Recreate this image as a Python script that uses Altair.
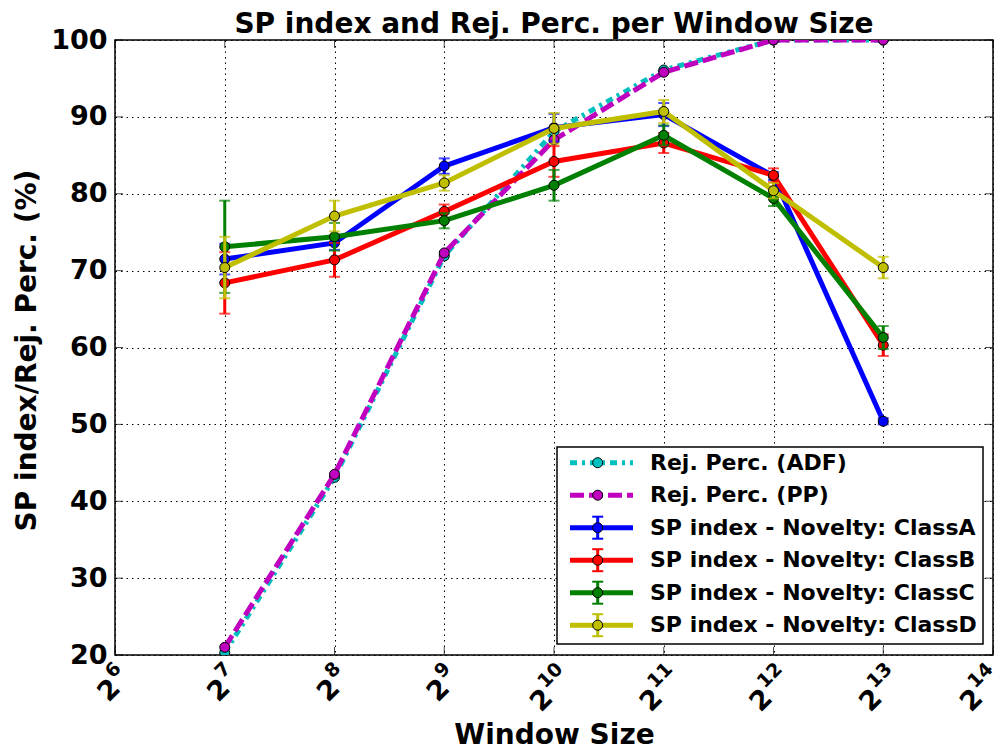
import altair as alt
import pandas as pd

# ---------------- data ----------------
sizes = [128, 256, 512, 1024, 2048, 4096, 8192]

rej_adf = [20.3, 43.1, 71.9, 88.1, 96.1, 100.0, 100.0]
rej_pp = [21.0, 43.5, 72.3, 87.0, 95.8, 100.0, 100.0]

sp_a = [71.5, 73.6, 83.6, 88.6, 90.3, 82.3, 50.4]
err_a = [2.0, 0.9, 1.0, 1.8, 1.5, 0.5, 0.4]
sp_b = [68.4, 71.4, 77.7, 84.2, 86.6, 82.4, 60.3]
err_b = [4.0, 2.2, 0.9, 2.0, 1.3, 0.9, 1.4]
sp_c = [73.1, 74.4, 76.5, 81.1, 87.6, 79.4, 61.3]
err_c = [6.0, 1.8, 1.0, 2.0, 1.3, 1.0, 1.5]
sp_d = [70.4, 77.1, 81.4, 88.5, 90.7, 80.4, 70.4]
err_d = [4.0, 2.0, 1.0, 2.0, 1.5, 1.0, 1.4]

x_ticks = [64, 128, 256, 512, 1024, 2048, 4096, 8192, 16384]
x_tick_base = ["2"] * 9
x_tick_exp = ["6", "7", "8", "9", "10", "11", "12", "13", "14"]
y_ticks = [20, 30, 40, 50, 60, 70, 80, 90, 100]

legend_labels = [
    "Rej. Perc. (ADF)",
    "Rej. Perc. (PP)",
    "SP index - Novelty: ClassA",
    "SP index - Novelty: ClassB",
    "SP index - Novelty: ClassC",
    "SP index - Novelty: ClassD",
]
colors = ["#00bfbf", "#bf00bf", "#0000ff", "#ff0000", "#008000", "#bfbf00"]
dashes = [[7, 5, 3, 5], [14, 5], None, None, None, None]

# ---------------- layout ----------------
W, H = 878, 615
FONT = "DejaVu Sans"

x_axis = alt.Axis(
    values=x_ticks,
    labels=False,
    title="Window Size",
    titleX=439,
    titleY=88,
    titleBaseline="alphabetic",
    titleAlign="center",
)
y_axis = alt.Axis(
    values=y_ticks,
    labelPadding=8,
    labelOverlap=False,
    labelFlush=False,
    title="SP index/Rej. Perc. (%)",
    titleX=-80,
    titleY=310,
    titleAlign="center",
    titleBaseline="alphabetic",
)
x_scale = alt.Scale(type="log", base=2, domain=[64, 16384], nice=False)
y_scale = alt.Scale(domain=[20, 100], nice=False, zero=False)


def X(field="size"):
    return alt.X(f"{field}:Q", scale=x_scale, axis=x_axis, title="Window Size")


def Y(field="value"):
    return alt.Y(f"{field}:Q", scale=y_scale, axis=y_axis, title="SP index/Rej. Perc. (%)")


layers = []

# inner ticks on all four sides
xt = pd.DataFrame({"size": x_ticks})
yt = pd.DataFrame({"value": y_ticks})
layers.append(alt.Chart(xt).mark_tick(orient="vertical", color="black", size=8, thickness=1).encode(x=X(), y=alt.value(H - 4)))
layers.append(alt.Chart(xt).mark_tick(orient="vertical", color="black", size=8, thickness=1).encode(x=X(), y=alt.value(4)))
layers.append(alt.Chart(yt).mark_tick(orient="horizontal", color="black", size=8, thickness=1).encode(y=Y(), x=alt.value(4)))
layers.append(alt.Chart(yt).mark_tick(orient="horizontal", color="black", size=8, thickness=1).encode(y=Y(), x=alt.value(W - 4)))

# x tick labels: base "2" plus raised exponent, rotated 45 degrees
lab = pd.DataFrame({"size": x_ticks, "base": x_tick_base, "exp": x_tick_exp})
lab["nd"] = lab["exp"].str.len()
lab["last"] = [False] * (len(x_ticks) - 1) + [True]
groups = [
    (lab[lab["nd"] == 1], -38.5, 29.4),
    (lab[(lab["nd"] == 2) & (~lab["last"])], -50.2, 31.8),
    # last label nudged slightly so it stays inside the page edge
    (lab[lab["last"]], -56.5, 25.5),
]
for sub, bdx, bdy in groups:
    layers.append(
        alt.Chart(sub).mark_text(
            angle=315, align="left", baseline="alphabetic", font=FONT, fontSize=27,
            fontWeight="bold", color="black", dx=bdx, dy=bdy
        ).encode(x=X(), y=alt.value(H), text="base:N")
    )
    layers.append(
        alt.Chart(sub).mark_text(
            angle=315, align="left", baseline="alphabetic", font=FONT, fontSize=19,
            fontWeight="bold", color="black", dx=bdx + 20, dy=bdy - 14
        ).encode(x=X(), y=alt.value(H), text="exp:N")
    )

series = [
    (rej_adf, None),
    (rej_pp, None),
    (sp_a, err_a),
    (sp_b, err_b),
    (sp_c, err_c),
    (sp_d, err_d),
]

MSIZE = 100
LW = 5

for i, (vals, errs) in enumerate(series):
    col = colors[i]
    df = pd.DataFrame({"size": sizes, "value": vals})
    if errs is not None:
        df["lo"] = [v - e for v, e in zip(vals, errs)]
        df["hi"] = [v + e for v, e in zip(vals, errs)]
        layers.append(
            alt.Chart(df).mark_rule(color=col, strokeWidth=3, clip=True).encode(x=X(), y=Y("lo"), y2="hi:Q")
        )
        caps = pd.DataFrame({"size": sizes + sizes, "value": list(df["lo"]) + list(df["hi"])})
        layers.append(
            alt.Chart(caps).mark_tick(orient="horizontal", color=col, size=11, thickness=2, clip=True).encode(x=X(), y=Y())
        )
    line_kw = dict(color=col, strokeWidth=LW, clip=True)
    if dashes[i] is not None:
        line_kw["strokeDash"] = dashes[i]
    layers.append(alt.Chart(df).mark_line(**line_kw).encode(x=X(), y=Y()))
    layers.append(
        alt.Chart(df).mark_point(
            shape="circle", filled=True, size=MSIZE, fill=col, stroke="black",
            strokeWidth=1, opacity=1, clip=True
        ).encode(x=X(), y=Y())
    )

# ---------------- legend ----------------
one = pd.DataFrame({"k": [0]})
LX0, LX1, LY0, LY1 = 442, 868, 407, 604
layers.append(
    alt.Chart(one).mark_rect(fill="white", stroke="black", strokeWidth=1.5).encode(
        x=alt.value(LX0), x2=alt.value(LX1), y=alt.value(LY0), y2=alt.value(LY1)
    )
)
for i, lbl in enumerate(legend_labels):
    yy = 422.7 + 32.5 * i
    col = colors[i]
    kw = dict(color=col, strokeWidth=LW)
    if dashes[i] is not None:
        kw["strokeDash"] = dashes[i]
    layers.append(alt.Chart(one).mark_rule(**kw).encode(x=alt.value(455), x2=alt.value(518), y=alt.value(yy)))
    if i >= 2:
        layers.append(alt.Chart(one).mark_rule(color=col, strokeWidth=3).encode(
            x=alt.value(482.7), y=alt.value(yy - 11), y2=alt.value(yy + 11)))
        for dy in (-11, 11):
            layers.append(alt.Chart(one).mark_rule(color=col, strokeWidth=2).encode(
                x=alt.value(477.2), x2=alt.value(488.2), y=alt.value(yy + dy)))
    layers.append(alt.Chart(one).mark_point(
        shape="circle", filled=True, size=MSIZE, fill=col, stroke="black", strokeWidth=1, opacity=1
    ).encode(x=alt.value(482.7), y=alt.value(yy)))
    layers.append(
        alt.Chart(pd.DataFrame({"label": [lbl]})).mark_text(
            align="left", baseline="middle", fontSize=22, fontWeight="bold", font=FONT, color="black"
        ).encode(x=alt.value(535), y=alt.value(yy), text="label:N")
    )

chart = (
    alt.layer(*layers)
    .properties(
        width=W,
        height=H,
        autosize=alt.AutoSizeParams(type="none"),
        padding={"left": 107, "top": 32, "right": 3, "bottom": 96},
        title=alt.Title("SP index and Rej. Perc. per Window Size", dy=14),
    )
    .configure(font=FONT)
    .configure_view(stroke="black", strokeWidth=1.5)
    .configure_axis(
        grid=True,
        gridColor="black",
        gridDash=[1.5, 4],
        gridWidth=1,
        gridOpacity=1,
        domain=False,
        ticks=False,
        labelFont=FONT,
        labelFontSize=27,
        labelFontWeight="bold",
        labelColor="black",
        titleFont=FONT,
        titleFontSize=28,
        titleFontWeight="bold",
        titleColor="black",
    )
    .configure_title(
        font=FONT, fontSize=28, fontWeight="bold", color="black",
        anchor="middle", baseline="alphabetic", offset=1
    )
)

chart.save("out.html", embed_options={"renderer": "svg", "actions": False})
